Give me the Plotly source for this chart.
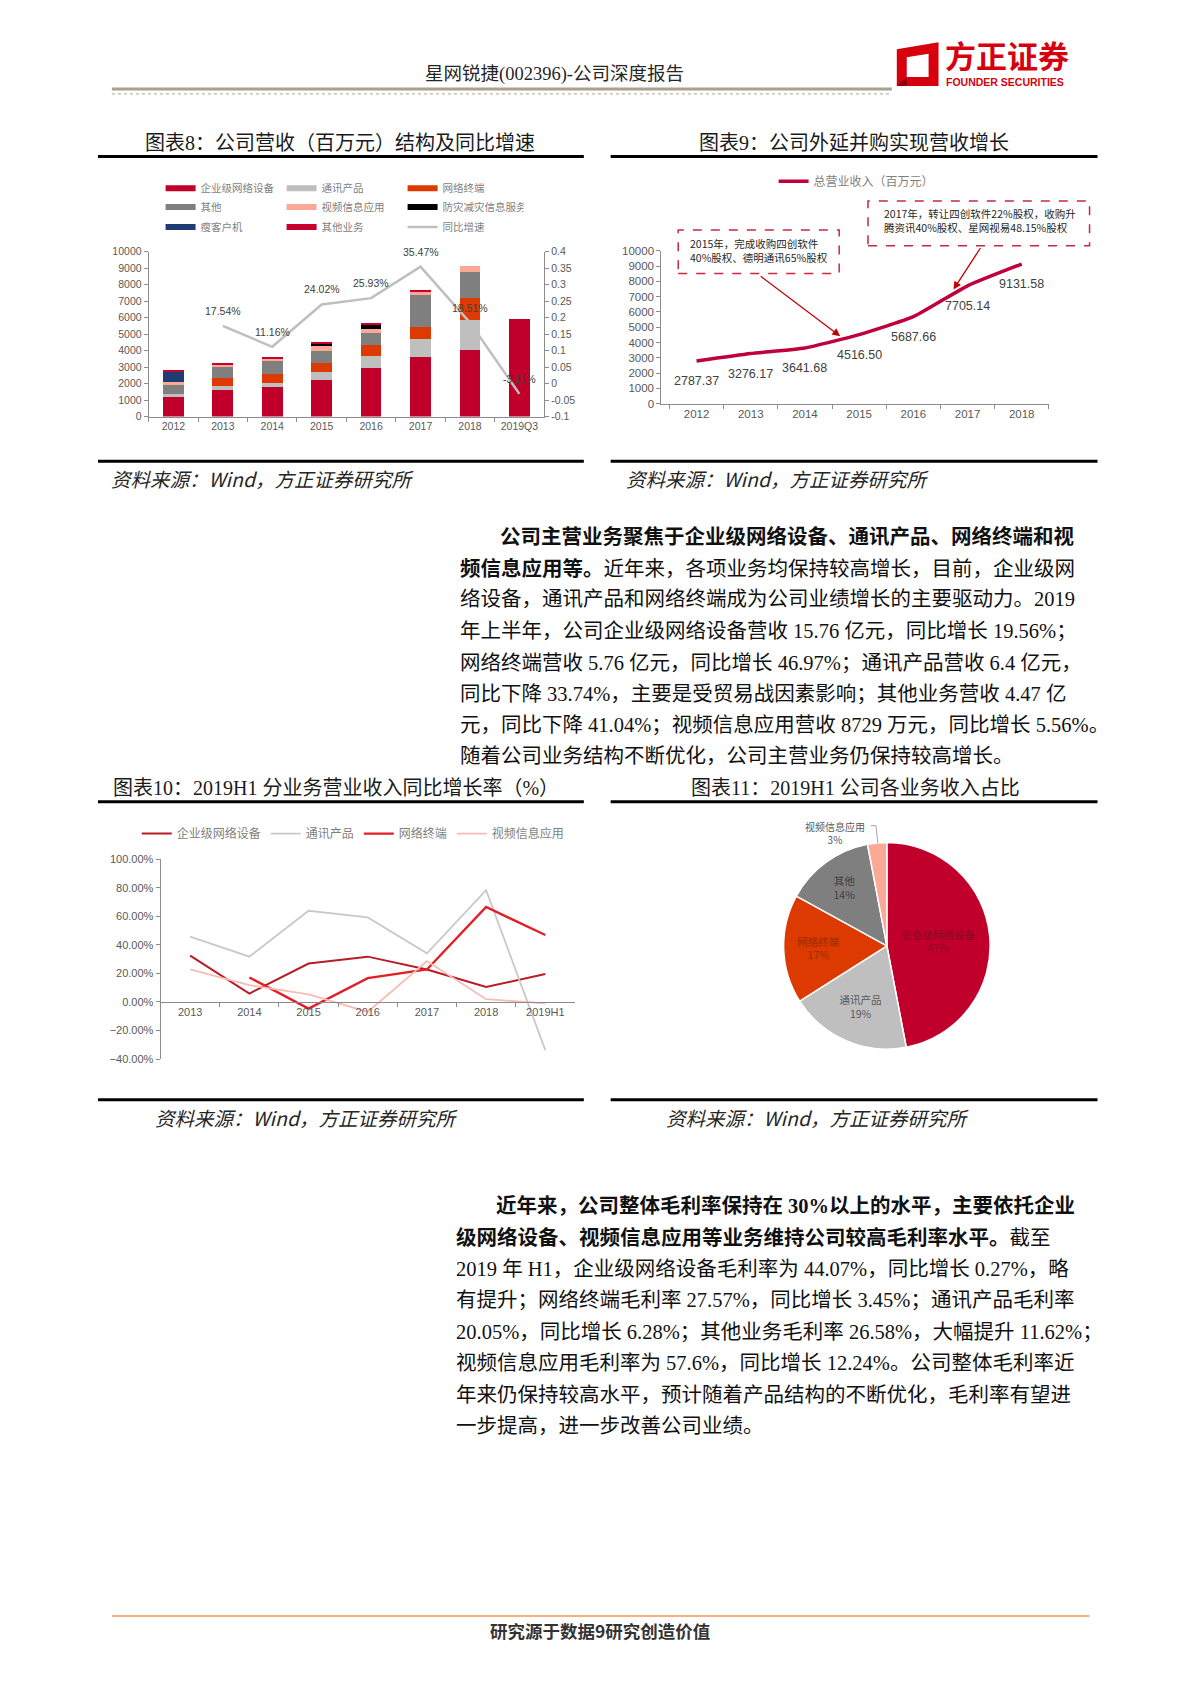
import plotly.graph_objects as go

W, H = 1200, 1698

# ---------------- data ----------------
# 图表8: 公司营收（百万元）结构及同比增速
years8 = ["2012", "2013", "2014", "2015", "2016", "2017", "2018", "2019Q3"]
ent_net8 = [1170, 1600, 1780, 2200, 2950, 3600, 4030, 5950]
telecom8 = [230, 250, 250, 480, 730, 1100, 1820, 0]
terminal8 = [0, 500, 570, 570, 650, 750, 1340, 0]
other8 = [560, 650, 750, 750, 750, 1900, 1610, 0]
video8 = [120, 200, 200, 280, 250, 250, 330, 0]
disaster8 = [0, 0, 0, 140, 250, 0, 0, 0]
thin_client8 = [660, 0, 0, 0, 0, 0, 0, 0]
other_biz8 = [47, 76, 90, 96, 108, 105, 0, 0]
growth8 = [None, 0.1754, 0.1116, 0.2402, 0.2593, 0.3547, 0.1851, -0.0311]
right_ticks8 = [-0.1, -0.05, 0, 0.05, 0.1, 0.15, 0.2, 0.25, 0.3, 0.35, 0.4]
right_ticktext8 = ["-0.1", "-0.05", "0", "0.05", "0.1", "0.15", "0.2", "0.25", "0.3", "0.35", "0.4"]

# 图表9: 公司外延并购实现营收增长
years9 = ["2012", "2013", "2014", "2015", "2016", "2017", "2018"]
revenue9 = [2787.37, 3276.17, 3641.68, 4516.50, 5687.66, 7705.14, 9131.58]

# 图表10: 2019H1 分业务营业收入同比增长率（%）
years10 = ["2013", "2014", "2015", "2016", "2017", "2018", "2019H1"]
g_ent10 = [32.5, 5.9, 27.0, 31.8, 22.8, 10.6, 19.56]
g_tel10 = [45.9, 31.8, 64.0, 59.3, 34.1, 78.4, -33.74]
g_term10 = [None, 17.2, -4.6, 16.7, 22.8, 66.6, 46.97]
g_video10 = [22.8, 11.8, 5.4, -7.0, 28.7, 2.0, -1.0]

# 图表11: 2019H1 公司各业务收入占比（%）
pie_labels = ["企业级网络设备", "通讯产品", "网络终端", "其他", "视频信息应用"]
pie_values = [47, 19, 17, 14, 3]

para1 = [
    "<b>公司主营业务聚焦于企业级网络设备、通讯产品、网络终端和视</b>",
    "<b>频信息应用等。</b>近年来，各项业务均保持较高增长，目前，企业级网",
    "络设备，通讯产品和网络终端成为公司业绩增长的主要驱动力。2019",
    "年上半年，公司企业级网络设备营收 15.76 亿元，同比增长 19.56%；",
    "网络终端营收 5.76 亿元，同比增长 46.97%；通讯产品营收 6.4 亿元，",
    "同比下降 33.74%，主要是受贸易战因素影响；其他业务营收 4.47 亿",
    "元，同比下降 41.04%；视频信息应用营收 8729 万元，同比增长 5.56%。",
    "随着公司业务结构不断优化，公司主营业务仍保持较高增长。",
]
para2 = [
    "<b>近年来，公司整体毛利率保持在 30%以上的水平，主要依托企业</b>",
    "<b>级网络设备、视频信息应用等业务维持公司较高毛利率水平。</b>截至",
    "2019 年 H1，企业级网络设备毛利率为 44.07%，同比增长 0.27%，略",
    "有提升；网络终端毛利率 27.57%，同比增长 3.45%；通讯产品毛利率",
    "20.05%，同比增长 6.28%；其他业务毛利率 26.58%，大幅提升 11.62%；",
    "视频信息应用毛利率为 57.6%，同比增长 12.24%。公司整体毛利率近",
    "年来仍保持较高水平，预计随着产品结构的不断优化，毛利率有望进",
    "一步提高，进一步改善公司业绩。",
]

# ---------------- helpers (page pixel -> paper) ----------------
def px(x):
    return (98 + (x - 98) / 1.0065) / W


def py(y):
    return 1 - (y - 5.5) / H


CJK = "Noto Sans CJK SC"
SERIF = "Liberation Serif, Noto Sans CJK SC"
SANS = "Liberation Sans, Arial, Noto Sans CJK SC"
RED = "#C0002A"

fig = go.Figure()

# ---------------- chart 8 ----------------
bar_series = [
    ("企业级网络设备", ent_net8, RED, "legend"),
    ("通讯产品", telecom8, "#BFBFBF", "legend"),
    ("网络终端", terminal8, "#DC3A00", "legend"),
    ("其他", other8, "#7F7F7F", "legend2"),
    ("视频信息应用", video8, "#F9A996", "legend2"),
    ("防灾减灾信息服务", disaster8, "#000000", "legend2"),
    ("瘦客户机", thin_client8, "#1F3B73", "legend3"),
    ("其他业务", other_biz8, "#C8002E", "legend3"),
]
for name, vals, col, lg in bar_series:
    fig.add_trace(go.Bar(x=years8, y=vals, name=name, width=0.42,
                         marker=dict(color=col, line=dict(width=0)),
                         showlegend=False, xaxis="x", yaxis="y"))
for name, vals, col, lg in bar_series:
    fig.add_trace(go.Scatter(x=[None], y=[None], mode="lines", name=name,
                             line=dict(color=col, width=6), legend=lg,
                             xaxis="x", yaxis="y"))
fig.add_trace(go.Scatter(x=years8, y=growth8, mode="lines", name="同比增速",
                         line=dict(color="#BFBFBF", width=2.5), legend="legend3",
                         xaxis="x", yaxis="y2"))

# ---------------- chart 9 ----------------
fig.add_trace(go.Scatter(x=years9, y=revenue9, mode="lines", name="总营业收入（百万元）",
                         line=dict(color="#C0003A", width=3.5, shape="spline", smoothing=0.5),
                         legend="legend4", xaxis="x3", yaxis="y3"))

# ---------------- chart 10 ----------------
line_series10 = [
    ("企业级网络设备", g_ent10, "#B81C24", 2.0),
    ("通讯产品", g_tel10, "#C9C9C9", 1.8),
    ("网络终端", g_term10, "#E31E24", 2.4),
    ("视频信息应用", g_video10, "#F7BDB4", 1.8),
]
for name, vals, col, wd in line_series10:
    fig.add_trace(go.Scatter(x=years10, y=vals, mode="lines", name=name,
                             line=dict(color=col, width=wd), legend="legend5",
                             xaxis="x4", yaxis="y4"))

# ---------------- chart 11 ----------------
pie_colors = [RED, "#BFBFBF", "#DC3A00", "#7F7F7F", "#F9A996"]
pie_text_colors = ["#8A0A26", "#595959", "#9A2A00", "#404040", "#595959"]
fig.add_trace(go.Pie(
    labels=pie_labels, values=pie_values, sort=False, direction="clockwise", rotation=0,
    marker=dict(colors=pie_colors, line=dict(color="white", width=1.5)),
    texttemplate=["%{label}<br>%{percent:.0%}"] * 4 + [""],
    textposition="inside", insidetextorientation="horizontal",
    textfont=dict(size=10.5, color=pie_text_colors, family=CJK),
    domain=dict(x=[px(892 - 104), px(892 + 104)], y=[py(952 + 104), py(952 - 104)]),
    showlegend=False, hoverinfo="skip"))

# ---------------- axes ----------------
axis_gray = "#8C8C8C"
tick_font = dict(size=10.5, color="#595959", family=SANS)

y10_lo, y10_hi = -40, 100
y10_dom = [py(1066), py(865)]
zero_pos10 = y10_dom[0] + (0 - y10_lo) / (y10_hi - y10_lo) * (y10_dom[1] - y10_dom[0])

common_ax = dict(showgrid=False, zeroline=False, showline=True, linecolor=axis_gray,
                 linewidth=1, ticks="outside", ticklen=4, tickcolor=axis_gray,
                 tickfont=tick_font)
font9 = dict(size=11.5, color="#595959", family=SANS)
font10 = dict(size=11, color="#595959", family=SANS)

layout_axes = dict(
    xaxis=dict(**common_ax, domain=[px(149), px(547)], anchor="y", type="category",
               range=[-0.5, 7.5], tickson="boundaries"),
    yaxis=dict(**common_ax, domain=[py(419), py(253)], anchor="x", range=[0, 10000],
               dtick=1000, tickformat="d"),
    yaxis2=dict(**common_ax, overlaying="y", side="right", anchor="x", range=[-0.1, 0.4],
                tickvals=right_ticks8, ticktext=right_ticktext8),
    xaxis3=dict(**{**common_ax, "tickfont": font9},
                domain=[px(665), px(1055)], anchor="y3", type="category",
                range=[-0.65, 6.5], tickson="boundaries"),
    yaxis3=dict(**{**common_ax, "tickfont": font9},
                domain=[py(406), py(252)], anchor="x3", range=[0, 10000], dtick=1000,
                tickformat="d"),
    xaxis4=dict(**{**common_ax, "tickfont": font10},
                domain=[px(161), px(578)], anchor="free", position=zero_pos10,
                type="category", range=[-0.5, 6.5], tickson="boundaries"),
    yaxis4=dict(**{**common_ax, "tickfont": font10},
                domain=y10_dom, anchor="x4", range=[y10_lo, y10_hi], dtick=20,
                tickformat=".2f", ticksuffix="%"),
)

# ---------------- shapes ----------------
def line_shape(x0, y0, x1, y1, color, width, dash="solid"):
    return dict(type="line", xref="paper", yref="paper", x0=px(x0), y0=py(y0),
                x1=px(x1), y1=py(y1), line=dict(color=color, width=width, dash=dash))


def path_shape(points, fill):
    d = "M " + " L ".join(f"{px(a):.5f},{py(b):.5f}" for a, b in points) + " Z"
    return dict(type="path", xref="paper", yref="paper", path=d,
                fillcolor=fill, line=dict(width=0))


shapes = [
    line_shape(112, 89, 897, 89, "#A9A18D", 3),
    line_shape(112, 94, 897, 94, "#BDB5A5", 1.2, "dot"),
    # logo icon
    path_shape([(902, 49), (944, 42), (944, 86), (902, 86)], "#D7000F"),
    path_shape([(912, 57), (934, 53.5), (934, 77), (912, 77)], "white"),
    path_shape([(902, 86), (912, 77), (912, 86)], "#8E0010"),
    # chart separators
    line_shape(98, 157, 587, 157, "black", 3),
    line_shape(614, 157, 1104, 157, "black", 3),
    line_shape(98, 464, 587, 464, "black", 3),
    line_shape(614, 464, 1104, 464, "black", 3),
    line_shape(98, 807, 587, 807, "black", 3),
    line_shape(614, 807, 1104, 807, "black", 3),
    line_shape(98, 1107, 587, 1107, "black", 3),
    line_shape(614, 1107, 1104, 1107, "black", 3),
    # footer
    line_shape(112, 1627, 1096, 1627, "#F4B183", 2),
    # chart 9 dashed boxes
    dict(type="rect", xref="paper", yref="paper", x0=px(682), x1=px(844), y0=py(275), y1=py(231),
         line=dict(color="#C8283C", width=1.5, dash="dash"), fillcolor="rgba(255,255,255,0)"),
    dict(type="rect", xref="paper", yref="paper", x0=px(873), x1=px(1096), y0=py(247), y1=py(202),
         line=dict(color="#C8283C", width=1.5, dash="dash"), fillcolor="rgba(255,255,255,0)"),
    # pie leader line
    line_shape(876, 831, 881, 831, "#A6A6A6", 1),
    line_shape(881, 831, 883, 849, "#A6A6A6", 1),
]

# ---------------- annotations ----------------
ann = []


def text_ann(x, y, text, size, color="#1A1A1A", family=SERIF, xanchor="center", align="left"):
    ann.append(dict(x=px(x), y=py(y), xref="paper", yref="paper", text=text, showarrow=False,
                    xanchor=xanchor, yanchor="middle", align=align,
                    font=dict(size=size, color=color, family=family)))


text_ann(557, 74, "星网锐捷(002396)-公司深度报告", 18.5, "#262626")
text_ann(948, 54, "<b>方正证券</b>", 31, "#D7000F", CJK, xanchor="left")
text_ann(949, 82, "<b>FOUNDER SECURITIES</b>", 10.5, "#D7000F", SANS, xanchor="left")

text_ann(342, 143, "图表8：公司营收（百万元）结构及同比增速", 20)
text_ann(859, 143, "图表9：公司外延并购实现营收增长", 20)
text_ann(338, 793, "图表10：2019H1 分业务营业收入同比增长率（%）", 20)
text_ann(860, 793, "图表11：2019H1 公司各业务收入占比", 20)

src = "<i>资料来源：Wind，方正证券研究所</i>"
text_ann(109, 481, src, 19.5, "#262626", CJK, xanchor="left")
text_ann(627, 481, src, 19.5, "#262626", CJK, xanchor="left")
text_ann(153, 1125, src, 19.5, "#262626", CJK, xanchor="left")
text_ann(668, 1125, src, 19.5, "#262626", CJK, xanchor="left")

PF = 20.5
p1_y = [540, 572, 603, 635, 667, 698, 730, 761]
for i, (t, yy) in enumerate(zip(para1, p1_y)):
    text_ann(460 + (2 * PF if i == 0 else 0), yy, t, PF, "#111111", SERIF, xanchor="left")
p2_y = [1214, 1246, 1277, 1309, 1341, 1372, 1404, 1436]
for i, (t, yy) in enumerate(zip(para2, p2_y)):
    text_ann(456 + (2 * PF if i == 0 else 0), yy, t, PF, "#111111", SERIF, xanchor="left")

text_ann(603, 1642, "<b>研究源于数据9研究创造价值</b>", 17.5, "#333333", CJK)

# chart 9 box texts
text_ann(692, 252, "2015年，完成收购四创软件<br>40%股权、德明通讯65%股权", 10.5, "#262626", CJK, xanchor="left")
text_ann(887, 222, "2017年，转让四创软件22%股权，收购升<br>腾资讯40%股权、星网视易48.15%股权", 10.5, "#262626", CJK, xanchor="left")

# chart 9 arrows
ann.append(dict(x=px(845), y=py(338), xref="paper", yref="paper", ax=-81, ay=-61, text="",
                showarrow=True, arrowhead=2, arrowsize=1.2, arrowwidth=1.3, arrowcolor="#C00000"))
ann.append(dict(x=px(959), y=py(291), xref="paper", yref="paper", ax=28, ay=-43, text="",
                showarrow=True, arrowhead=2, arrowsize=1.2, arrowwidth=1.3, arrowcolor="#C00000"))

# pie outside label
text_ann(840, 838, "视频信息应用<br>3%", 10, "#595959", CJK, align="center")

# chart 8 growth labels (category index positions on the x axis)
for i, g in enumerate(growth8):
    if g is None:
        continue
    ann.append(dict(x=i, y=g, xref="x", yref="y2", text=f"{g * 100:.2f}%", showarrow=False,
                    yshift=15, font=dict(size=10.5, color="#404040", family=SANS)))

# chart 9 value labels
for i, v in enumerate(revenue9):
    ann.append(dict(x=i, y=v, xref="x3", yref="y3", text=f"{v:.2f}", showarrow=False,
                    yshift=-20, font=dict(size=12.5, color="#404040", family=SANS)))

# ---------------- legends ----------------
leg_common = dict(orientation="h", xanchor="left", yanchor="middle", bgcolor="rgba(0,0,0,0)",
                  borderwidth=0, itemwidth=30, tracegroupgap=0, traceorder="normal")
leg8_font = dict(size=10.5, color="#7F7F7F", family=CJK)

fig.update_layout(
    width=W, height=H, margin=dict(l=0, r=0, t=0, b=0),
    paper_bgcolor="white", plot_bgcolor="rgba(0,0,0,0)",
    barmode="stack", showlegend=True,
    font=dict(family=CJK),
    legend=dict(**leg_common, x=px(161), y=py(189), entrywidth=76, entrywidthmode="pixels", font=leg8_font),
    legend2=dict(**leg_common, x=px(161), y=py(208), entrywidth=76, entrywidthmode="pixels", font=leg8_font),
    legend3=dict(**leg_common, x=px(161), y=py(228), entrywidth=76, entrywidthmode="pixels", font=leg8_font),
    legend4=dict(**leg_common, x=px(778), y=py(182), font=dict(size=12, color="#7F7F7F", family=CJK)),
    legend5=dict(**leg_common, x=px(137), y=py(839), font=dict(size=12, color="#7F7F7F", family=CJK)),
    shapes=shapes, annotations=ann,
    **layout_axes,
)

fig.write_html("out.html", config={"displayModeBar": False},
               post_script="document.body.style.margin='0';")
